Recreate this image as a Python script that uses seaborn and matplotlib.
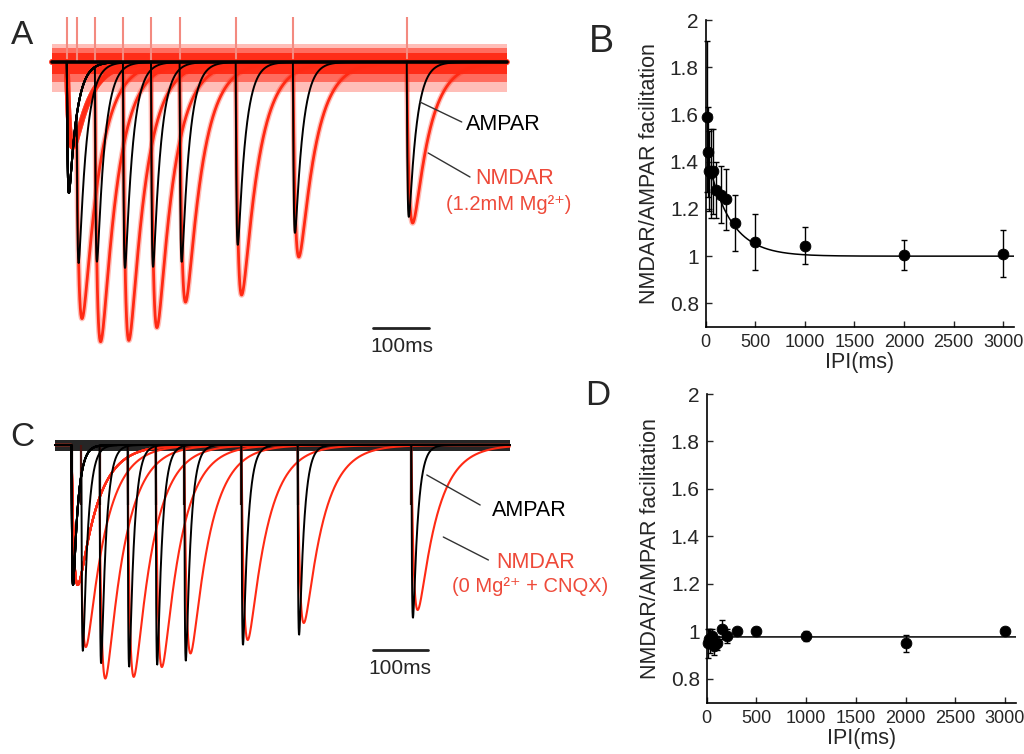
import numpy as np
import pandas as pd
import matplotlib
matplotlib.use("Agg")
import matplotlib.pyplot as plt
import seaborn as sns

# ------------------------------------------------------------------ data
# Panel A: paired-pulse EPSC traces in 1.2 mM Mg2+ (times in ms, amplitudes in a.u.)
A_first_stim = 27
A_second_stim = [45, 78, 129, 180, 232, 334, 438, 645]
A_ampa_first = 131
A_ampa_second = [160, 196, 206, 205, 200, 183, 171, 155]
A_nmda_first = 85
A_nmda_second = [200, 261, 275, 265, 240, 233, 195, 161]
A_ampa_tau = (1.5, 14)   # rise, decay (ms)
A_nmda_tau = (5, 30)

# Panel C: 0 Mg2+ + CNQX
C_first_stim = 30
C_second_stim = [48, 81, 132, 183, 235, 339, 441, 648]
C_ampa_first = 140
C_ampa_second = [184, 218, 222, 220, 216, 200, 190, 173]
C_nmda_first = 140
C_nmda_second = [100, 195, 223, 220, 208, 195, 178, 165]
C_ampa_tau = (1.2, 9)
C_nmda_tau = (5, 35)

trace_len_ms = 827

# Panel B: NMDAR/AMPAR facilitation vs IPI (1.2 mM Mg2+)
B_ipi = [10, 20, 30, 50, 75, 100, 150, 200, 300, 500, 1000, 2000, 3000]
B_ratio = [1.59, 1.44, 1.36, 1.35, 1.36, 1.28, 1.26, 1.24, 1.14, 1.06, 1.045, 1.005, 1.01]
B_sem = [0.32, 0.19, 0.17, 0.19, 0.18, 0.12, 0.12, 0.13, 0.12, 0.12, 0.08, 0.065, 0.10]
B_fit = {"offset": 1.0, "amp": 0.45, "tau": 230}

# Panel D: 0 Mg2+ + CNQX
D_ipi = [10, 20, 30, 50, 75, 100, 150, 200, 300, 500, 1000, 2000, 3000]
D_ratio = [0.95, 0.97, 0.96, 0.98, 0.94, 0.95, 1.01, 0.98, 1.00, 1.00, 0.98, 0.95, 1.00]
D_sem = [0.06, 0.04, 0.05, 0.03, 0.04, 0.03, 0.04, 0.03, 0.015, 0.02, 0.02, 0.035, 0.01]
D_fit = {"offset": 0.977, "amp": -0.03, "tau": 40}

y_ticks = [0.8, 1.0, 1.2, 1.4, 1.6, 1.8, 2.0]
y_ticklabels = ["0.8", "1", "1.2", "1.4", "1.6", "1.8", "2"]
x_ticks = [0, 500, 1000, 1500, 2000, 2500, 3000]

# ------------------------------------------------------------------ style
sns.set_theme(style="ticks")
FAM = ["Liberation Sans", "DejaVu Sans"]
plt.rcParams["font.family"] = FAM

RED = "#ff2a14"
RED_TXT = "#ee4a3a"
W, H = 1024, 754


def epsc(t, t0, amp, taus):
    tr, td = taus
    s = np.clip(t - t0, 0, None)
    tp = np.log(td / tr) * tr * td / (td - tr)
    norm = np.exp(-tp / td) - np.exp(-tp / tr)
    return -amp * np.where(t >= t0, (np.exp(-s / td) - np.exp(-s / tr)) / norm, 0.0)


t = np.arange(0, trace_len_ms + 0.25, 0.5)


def sweeps(first, a1, seconds, a2s, taus):
    frames = []
    for i, (s2, a2) in enumerate(zip(seconds, a2s)):
        y = epsc(t, first, a1, taus) + epsc(t, s2, a2, taus)
        frames.append(pd.DataFrame({"t": t, "I": y, "sweep": i}))
    return pd.concat(frames, ignore_index=True)


dfA_ampa = sweeps(A_first_stim, A_ampa_first, A_second_stim, A_ampa_second, A_ampa_tau)
dfA_nmda = sweeps(A_first_stim, A_nmda_first, A_second_stim, A_nmda_second, A_nmda_tau)
dfC_ampa = sweeps(C_first_stim, C_ampa_first, C_second_stim, C_ampa_second, C_ampa_tau)
dfC_nmda = sweeps(C_first_stim, C_nmda_first, C_second_stim, C_nmda_second, C_nmda_tau)

fig = plt.figure(figsize=(W / 100, H / 100), dpi=100)

# ------------------------------------------------------------------ panel A
axA = fig.add_axes([0, 1 - 380 / H, 560 / W, 380 / H])
axA.set_xlim((0 - 52) / 0.55, (560 - 52) / 0.55)
axA.set_ylim(-318, 62)
axA.axis("off")
axA.fill_between([0, trace_len_ms], -30, 18, color=RED, alpha=0.3, lw=0)
axA.fill_between([0, trace_len_ms], -20, 14, color=RED, alpha=0.55, lw=0)
axA.fill_between([0, trace_len_ms], -12, 9, color=RED, alpha=0.95, lw=0)
for s in [A_first_stim] + A_second_stim:
    axA.vlines(s, 0, 45, color="#f38a80", lw=1.5)
sns.lineplot(data=dfA_nmda, x="t", y="I", units="sweep", estimator=None, color=RED,
             lw=4.0, alpha=0.3, ax=axA, legend=False)
sns.lineplot(data=dfA_nmda, x="t", y="I", units="sweep", estimator=None, color=RED,
             lw=2.0, ax=axA, legend=False)
sns.lineplot(data=dfA_ampa, x="t", y="I", units="sweep", estimator=None, color="black",
             lw=1.4, ax=axA, legend=False)
axA.plot([0, trace_len_ms], [0, 0], color="black", lw=2.6)
axA.set_xlabel("")
axA.set_ylabel("")
# scale bar
axA.plot([584, 686], [-266, -266], color="#222222", lw=2)
axA.text(636, -284, "100ms", ha="center", va="center", fontsize=15)
axA.plot([669, 745], [-40, -60], color="#333333", lw=1)
axA.text(753, -63, "AMPAR", ha="left", va="center", fontsize=15.5, color="black")
axA.plot([684, 760], [-91, -115], color="#333333", lw=1)
axA.text(769, -116, "NMDAR", ha="left", va="center", fontsize=15.5, color=RED_TXT)
axA.text(716, -143, "(1.2mM Mg\u00b2\u207a)", ha="left", va="center", fontsize=14.5,
         color=RED_TXT, family=FAM)

# ------------------------------------------------------------------ panel C
axC = fig.add_axes([0, 0, 560 / W, 374 / H])
axC.set_xlim((0 - 55) / 0.55, (560 - 55) / 0.55)
axC.set_ylim(-309, 65)
axC.axis("off")
sns.lineplot(data=dfC_nmda, x="t", y="I", units="sweep", estimator=None, color=RED,
             lw=1.5, ax=axC, legend=False)
for s in [C_first_stim] + C_second_stim:
    axC.vlines(s, -60, 0, color="#4a1410", lw=1.6)
sns.lineplot(data=dfC_ampa, x="t", y="I", units="sweep", estimator=None, color="black",
             lw=1.4, ax=axC, legend=False)
axC.fill_between([0, trace_len_ms], -6, 5, color="black", alpha=0.85, lw=0)
axC.set_xlabel("")
axC.set_ylabel("")
axC.plot([578, 678], [-205, -205], color="#222222", lw=2)
axC.text(627, -223, "100ms", ha="center", va="center", fontsize=15)
axC.plot([676, 773], [-30, -60], color="#333333", lw=1)
axC.text(794, -65, "AMPAR", ha="left", va="center", fontsize=15.5, color="black")
axC.plot([706, 788], [-92, -115], color="#333333", lw=1)
axC.text(803, -118, "NMDAR", ha="left", va="center", fontsize=15.5, color=RED_TXT)
axC.text(722, -142, "(0 Mg\u00b2\u207a + CNQX)", ha="left", va="center", fontsize=14.5,
         color=RED_TXT, family=FAM)


# ------------------------------------------------------------------ panels B, D
def summary_panel(rect, ipi, ratio, sem, fit, xmax):
    ax = fig.add_axes(rect)
    xf = np.linspace(0, xmax, 800)
    yf = fit["offset"] + fit["amp"] * np.exp(-xf / fit["tau"])
    sns.lineplot(x=xf, y=yf, color="black", lw=1.1, ax=ax)
    ax.errorbar(ipi, ratio, yerr=sem, fmt="none", ecolor="black", elinewidth=1.0,
                capsize=2.5, capthick=1.0, clip_on=False, zorder=3)
    sns.scatterplot(x=ipi, y=ratio, s=60, color="black", edgecolor="black",
                    zorder=4, clip_on=False, ax=ax)
    ax.set_xlim(0, xmax)
    ax.set_ylim(0.7, 2.0)
    ax.set_yticks(y_ticks)
    ax.set_yticklabels(y_ticklabels)
    ax.set_xticks(x_ticks)
    ax.tick_params(direction="in", length=4, width=1, pad=5)
    ax.tick_params(axis="y", labelsize=15)
    ax.tick_params(axis="x", labelsize=13)
    ax.set_ylabel("NMDAR/AMPAR facilitation", fontsize=15.5, labelpad=7)
    ax.set_xlabel("IPI(ms)", fontsize=15.5, labelpad=1)
    for sp in ["top", "right"]:
        ax.spines[sp].set_visible(False)
    for sp in ["left", "bottom"]:
        ax.spines[sp].set_linewidth(1.2)
        ax.spines[sp].set_color("black")
    return ax


axB = summary_panel([705.7 / W, (H - 327) / H, (1014 - 705.7) / W, (327 - 20) / H],
                    B_ipi, B_ratio, B_sem, B_fit, 3108)
axD = summary_panel([706.7 / W, (H - 702.7) / H, (1016 - 706.7) / W, (702.7 - 394) / H],
                    D_ipi, D_ratio, D_sem, D_fit, 3111)

# panel letters
for lab, (px, py), fs in [("A", (22, 36), 24), ("B", (601, 42), 27),
                          ("C", (22, 437), 24), ("D", (598, 396), 25)]:
    fig.text(px / W, 1 - py / H, lab, ha="center", va="center", fontsize=fs)

fig.savefig("out.png", dpi=100)
